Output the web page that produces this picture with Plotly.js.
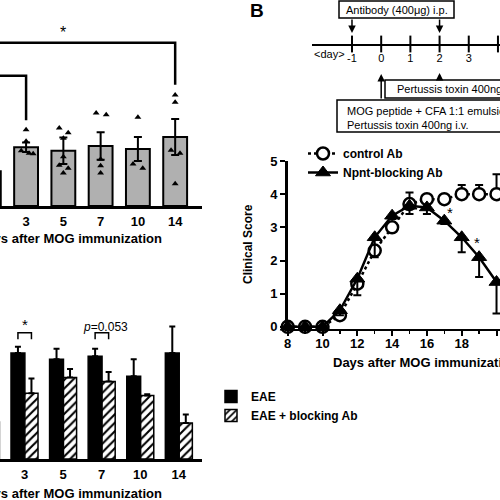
<!DOCTYPE html>
<html><head><meta charset="utf-8">
<script src="https://cdn.plot.ly/plotly-3.0.1.min.js"></script>
<style>html,body{margin:0;padding:0;background:#fff}</style>
</head><body><div id="chart" style="width:500px;height:500px"></div>
<script>
// ---------- Panel A (top): gray bars with individual points ----------
const daysA = ['1', '3', '5', '7', '10', '14'];
const meanA = [0.58, 0.98, 0.92, 1.00, 0.95, 1.15];
const semA  = [0.08, 0.08, 0.22, 0.23, 0.20, 0.30];
const dotsA = [
  [],
  [1.27, 1.08, 0.92, 0.88, 0.87],
  [1.30, 1.22, 1.13, 0.82, 0.68, 0.63, 0.55],
  [1.55, 1.52, 0.78, 0.67, 0.55],
  [1.48, 0.70, 0.63],
  [1.85, 1.73, 0.93, 0.88, 0.37]
];
const dotsJitter = [
  [],
  [0, 0, -0.13, 0.08, 0.19],
  [-0.11, 0.13, 0, 0, -0.11, 0.13, 0],
  [-0.12, 0.15, 0, 0, 0],
  [0, -0.13, 0.13],
  [0, 0, -0.11, 0.13, 0]
];

// ---------- Panel A (bottom): EAE vs EAE + blocking Ab ----------
const daysB = ['1', '3', '5', '7', '10', '14'];
const eae      = [0.45, 1.00, 0.94, 0.97, 0.78, 1.00];
const eaeSem   = [0.05, 0.06, 0.10, 0.07, 0.16, 0.25];
const eaeAb    = [0.35, 0.62, 0.77, 0.73, 0.60, 0.34];
const eaeAbSem = [0.05, 0.14, 0.08, 0.09, 0.01, 0.08];

// ---------- Panel B: clinical score ----------
const daysC   = [8, 9, 10, 11, 12, 13, 14, 15, 16, 17, 18, 19, 20];
const ctrl    = [0, 0, 0, 0.35, 1.30, 2.30, 3.00, 3.70, 3.85, 3.85, 4.00, 4.00, 4.00];
const ctrlErr = [0, 0, 0, 0.10, 0.15, 0.10, 0.10, 0.35, 0.10, 0.10, 0.28, 0.28, 0.60];
const npnt    = [0, 0, 0, 0.50, 1.45, 2.70, 3.35, 3.65, 3.60, 3.20, 2.70, 2.10, 1.35];
const npntErr = [0, 0, 0, 0.15, 0.50, 0.60, 0.10, 0.25, 0.20, 0.10, 0.45, 0.60, 0.95];

// ---------- Panel B: protocol timeline ----------
const timelineDays = [-1, 0, 1, 2, 3, 4];
const antibodyDays = [-1, 2];

const W = 500, H = 500;
const px = v => v / W, py = v => 1 - v / H;
const FONT = 'Liberation Sans, Arial, sans-serif';
const fb = s => ({family: FONT, size: s, color: '#000', weight: 700});
const fr = s => ({family: FONT, size: s, color: '#000'});

const idxA = daysA.map((_, i) => i);
const idxB = daysB.map((_, i) => i);
const dotX = [], dotY = [];
dotsA.forEach((arr, i) => arr.forEach((v, j) => { dotX.push(i + dotsJitter[i][j]); dotY.push(v); }));

const blackOff = -0.35, blackW = 0.36, hatchOff = 0.01, hatchW = 0.34;

const traces = [
  {type: 'bar', x: idxA, y: meanA, width: 0.64, xaxis: 'x', yaxis: 'y',
   marker: {color: '#b0b0b0', line: {color: '#000', width: 2}},
   error_y: {type: 'data', array: semA, color: '#000', thickness: 2, width: 4},
   showlegend: false, hoverinfo: 'skip'},
  {type: 'scatter', mode: 'markers', x: dotX, y: dotY, xaxis: 'x', yaxis: 'y',
   marker: {symbol: 'triangle-up', size: 6, color: '#000'}, showlegend: false, hoverinfo: 'skip'},

  {type: 'bar', name: 'EAE', x: idxB, y: eae, offset: blackOff, width: blackW,
   xaxis: 'x2', yaxis: 'y2', legend: 'legend2',
   marker: {color: '#000', line: {color: '#000', width: 1.5}},
   error_y: {type: 'data', array: eaeSem, arrayminus: eaeSem.map(() => 0), symmetric: false,
             color: '#000', thickness: 2, width: 3}},
  {type: 'bar', name: 'EAE + blocking Ab', x: idxB, y: eaeAb, offset: hatchOff, width: hatchW,
   xaxis: 'x2', yaxis: 'y2', legend: 'legend2',
   marker: {color: '#fff', line: {color: '#000', width: 1.5},
            pattern: {shape: '/', fgcolor: '#000', bgcolor: '#fff', size: 6, solidity: 0.35}},
   error_y: {type: 'data', array: eaeAbSem, arrayminus: eaeAbSem.map(() => 0), symmetric: false,
             color: '#000', thickness: 2, width: 3}},

  {type: 'scatter', mode: 'lines+markers', name: 'control Ab', x: daysC, y: ctrl,
   xaxis: 'x3', yaxis: 'y3', legend: 'legend', cliponaxis: false,
   line: {color: '#000', width: 2.5, dash: 'dot'},
   marker: {symbol: 'circle', size: 12, color: '#fff', line: {color: '#000', width: 2.5}},
   error_y: {type: 'data', array: ctrlErr, arrayminus: ctrlErr.map(() => 0), symmetric: false,
             color: '#000', thickness: 2, width: 4}},
  {type: 'scatter', mode: 'lines+markers', name: 'Npnt-blocking Ab', x: daysC, y: npnt,
   xaxis: 'x3', yaxis: 'y3', legend: 'legend', cliponaxis: false,
   line: {color: '#000', width: 2.5},
   marker: {symbol: 'triangle-up', size: 13, color: '#000', line: {color: '#000', width: 1}},
   error_y: {type: 'data', array: npntErr.map(() => 0), arrayminus: npntErr, symmetric: false,
             color: '#000', thickness: 2, width: 4}},

  {type: 'scatter', mode: 'markers', x: timelineDays, y: timelineDays.map(() => 0),
   xaxis: 'x4', yaxis: 'y4', cliponaxis: false, showlegend: false, hoverinfo: 'skip',
   marker: {symbol: 'line-ns-open', size: 12, color: '#000', line: {color: '#000', width: 2}}}
];

const shapes = [
  // significance brackets, top panel
  {type: 'path', xref: 'x', yref: 'y', path: 'M 0,2.72 L 5,2.72 L 5,2.02', line: {color: '#000', width: 2.5}},
  {type: 'path', xref: 'x', yref: 'y', path: 'M 0,2.17 L 1,2.17 L 1,1.43', line: {color: '#000', width: 2.5}},
  // brackets, bottom panel
  ...[1, 3].map(i => {
    const a = i + blackOff + blackW / 2, b = i + hatchOff + hatchW / 2;
    return {type: 'path', xref: 'x2', yref: 'y2',
            path: `M ${a},1.13 L ${a},1.19 L ${b},1.19 L ${b},1.13`, line: {color: '#000', width: 1.5}};
  }),
  // protocol boxes
  {type: 'rect', xref: 'paper', yref: 'paper', x0: px(339), x1: px(454), y0: py(18), y1: py(1), line: {color: '#000', width: 1.5}},
  {type: 'rect', xref: 'paper', yref: 'paper', x0: px(385), x1: 1.06, y0: py(98), y1: py(80), line: {color: '#000', width: 1.5}},
  {type: 'rect', xref: 'paper', yref: 'paper', x0: px(337), x1: 1.06, y0: py(132), y1: py(100), line: {color: '#000', width: 1.5}}
];

const arrow = (day, tipY, ay) => ({xref: 'x4', x: day, yref: 'paper', y: py(tipY), ax: 0, ay: ay,
  showarrow: true, arrowhead: 2, arrowsize: 1, arrowwidth: 1.5, arrowcolor: '#000', text: ''});

const txt = (o) => Object.assign({showarrow: false, xanchor: 'center', yanchor: 'middle'}, o);

const annotations = [
  txt({xref: 'x', yref: 'y', x: 2, y: 2.9, text: '*', font: fr(16)}),
  txt({xref: 'x2', yref: 'y2', x: 1, y: 1.27, text: '*', font: fr(15)}),
  txt({xref: 'x2', yref: 'y2', x: 3.1, y: 1.245, text: '<i>p</i>=0.053', font: fr(12)}),
  txt({xref: 'paper', yref: 'paper', x: px(164), y: py(238), xanchor: 'right', text: 'Days after MOG immunization', font: fb(13)}),
  txt({xref: 'paper', yref: 'paper', x: px(164), y: py(493), xanchor: 'right', text: 'Days after MOG immunization', font: fb(13)}),
  txt({xref: 'paper', yref: 'paper', x: px(331), y: py(362), xanchor: 'left', text: 'Days after MOG immunization', font: fb(13)}),
  txt({xref: 'paper', yref: 'paper', x: px(248), y: py(244), textangle: -90, text: 'Clinical Score', font: fb(12)}),
  txt({xref: 'x3', yref: 'y3', x: 17.3, y: 3.45, text: '*', font: fr(15)}),
  txt({xref: 'x3', yref: 'y3', x: 18.85, y: 2.55, text: '*', font: fr(15)}),
  txt({xref: 'paper', yref: 'paper', x: px(248), y: py(10), xanchor: 'left', text: 'B', font: fb(19)}),
  // timeline texts
  txt({xref: 'paper', yref: 'paper', x: px(396.5), y: py(10), text: 'Antibody (400μg) i.p.', font: fr(11)}),
  txt({xref: 'x4', yref: 'paper', x: -2.37, y: py(54), xanchor: 'left', text: '&lt;day&gt;', font: fr(11)}),
  txt({xref: 'paper', yref: 'paper', x: px(395), y: py(89), xanchor: 'left', text: 'Pertussis toxin 400ng i.v.', font: fr(11)}),
  txt({xref: 'paper', yref: 'paper', x: px(345), y: py(111), xanchor: 'left', text: 'MOG peptide + CFA 1:1 emulsion', font: fr(11)}),
  txt({xref: 'paper', yref: 'paper', x: px(345), y: py(125), xanchor: 'left', text: 'Pertussis toxin 400ng i.v.', font: fr(11)}),
  ...antibodyDays.map(d => arrow(d, 33, -15)),
  arrow(2, 73, 7),
  arrow(0, 74, 26)
];

const xBar = (dom, rng, labels, stand) => ({domain: dom, range: rng, type: 'linear', showline: true, linewidth: 2.5, linecolor: '#000',
  ticks: '', tickvals: labels.map((_, i) => i), ticktext: labels, tickfont: fb(13), ticklabelstandoff: stand,
  showgrid: false, zeroline: false, automargin: false, fixedrange: true});

const layout = {
  width: W, height: H, margin: {l: 0, r: 0, t: 0, b: 0}, paper_bgcolor: '#fff', plot_bgcolor: 'rgba(0,0,0,0)',
  font: fr(12), barmode: 'overlay', showlegend: true,
  xaxis:  Object.assign(xBar([0, px(202)], [0.30, 5.72], daysA, 2), {anchor: 'y'}),
  yaxis:  {domain: [py(206), py(20)], range: [0, 186 / 60], visible: false, anchor: 'x'},
  xaxis2: Object.assign(xBar([0, px(202)], [0.365, 5.6], daysB, 2), {anchor: 'y2'}),
  yaxis2: {domain: [py(459), py(300)], range: [0, 1.5], visible: false, anchor: 'x2'},
  xaxis3: {domain: [px(287.7), 1], range: [8, 20.2], anchor: 'y3', showline: true, linewidth: 2.5, linecolor: '#000',
           ticks: 'outside', ticklen: 5, tickwidth: 2, tickcolor: '#000', tick0: 8, dtick: 2, ticklabelstandoff: -4,
           minor: {dtick: 1, ticks: 'outside', ticklen: 3, tickwidth: 1.5, tickcolor: '#000'},
           tickfont: fb(13), showgrid: false, zeroline: false, automargin: false},
  yaxis3: {domain: [py(328.5), py(161)], range: [-0.05, 5], anchor: 'x3', showline: true, linewidth: 2.5, linecolor: '#000',
           ticks: 'outside', ticklen: 5, tickwidth: 2, tickcolor: '#000', dtick: 1, tick0: 0,
           tickfont: fb(13), showgrid: false, zeroline: false, automargin: false},
  xaxis4: {domain: [px(312), 1], range: [-2.37, 4.07], anchor: 'y4', showline: true, linewidth: 2, linecolor: '#000',
           ticks: '', tickvals: timelineDays, ticktext: timelineDays.map(String), tickfont: fr(11), ticklabelstandoff: 3,
           showgrid: false, zeroline: false, automargin: false},
  yaxis4: {domain: [py(44), 1], range: [0, 1], visible: false, anchor: 'x4'},
  legend: {x: px(303), y: py(139), xanchor: 'left', yanchor: 'top', bgcolor: 'rgba(0,0,0,0)', font: fb(12),
           itemwidth: 30, tracegroupgap: 0},
  legend2: {x: px(211), y: py(382), xanchor: 'left', yanchor: 'top', bgcolor: 'rgba(0,0,0,0)', font: fb(12),
           itemwidth: 30, tracegroupgap: 0},
  shapes: shapes,
  annotations: annotations
};

Plotly.newPlot('chart', traces, layout, {staticPlot: true, displayModeBar: false});
</script>
</body></html>
